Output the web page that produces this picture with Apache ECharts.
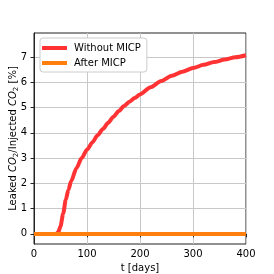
<!DOCTYPE html>
<html>
<head>
<meta charset="utf-8">
<script src="https://cdn.jsdelivr.net/npm/echarts@6/dist/echarts.min.js"></script>
<style>html,body{margin:0;padding:0;background:#fff}#c{width:274px;height:274px}</style>
</head>
<body>
<div id="c"></div>
<script>
var days = [0, 10, 20, 30, 40, 42, 46, 50, 55, 60, 65, 70, 80, 90, 100, 110, 120, 130, 140, 150, 160, 170, 180, 190, 200, 220, 240, 260, 280, 300, 320, 340, 360, 380, 400];
var withoutMICP = [0, 0, 0, 0, 0, 0, 0.08, 0.3, 0.8, 1.35, 1.75, 2.08, 2.6, 3.0, 3.33, 3.62, 3.9, 4.15, 4.4, 4.64, 4.86, 5.06, 5.23, 5.38, 5.52, 5.8, 6.05, 6.26, 6.42, 6.56, 6.69, 6.8, 6.9, 6.99, 7.07];
var afterDays = [0, 100, 200, 300, 400];
var afterMICP = [0, 0, 0, 0, 0];
var xTicks = [0, 100, 200, 300, 400];
var yTicks = [0, 1, 2, 3, 4, 5, 6, 7];

var font = 'DejaVu Sans';
var chart = echarts.init(document.getElementById('c'), null, {renderer: 'canvas'});
chart.setOption({
  animation: false,
  backgroundColor: '#fff',
  textStyle: {fontFamily: font},
  grid: {left: 34, right: 28, top: 33, bottom: 30, containLabel: false, outerBoundsMode: 'none', show: true, borderColor: '#222', borderWidth: 1, backgroundColor: 'transparent'},
  legend: {
    orient: 'vertical', left: 40, top: 38,
    backgroundColor: '#fff', borderColor: '#ccc', borderWidth: 1, borderRadius: 3,
    padding: [5, 6, 4, 2], itemGap: 5, itemWidth: 25, itemHeight: 4,
    icon: 'rect',
    textStyle: {fontFamily: font, fontSize: 10, color: '#000', padding: [0, 0, 0, 2]},
    data: ['Without MICP', 'After MICP']
  },
  xAxis: {
    type: 'value', min: 0, max: 400, interval: 100,
    name: 't [days]', nameLocation: 'middle', nameGap: 19, nameMoveOverlap: false,
    nameTextStyle: {fontFamily: font, fontSize: 10, color: '#000'},
    axisLine: {show: true, lineStyle: {color: '#222', width: 1}},
    axisTick: {show: true, length: 3.5, lineStyle: {color: '#222'}, customValues: xTicks},
    axisLabel: {fontFamily: font, fontSize: 10, color: '#000', margin: 5, customValues: xTicks},
    splitLine: {show: true, lineStyle: {color: '#c8c8c8', width: 1}}
  },
  yAxis: {
    type: 'value', min: -0.4, max: 7.95, splitNumber: 8,
    name: 'Leaked {i|CO}{s|2}/Injected {i|CO}{s|2} [%]', nameLocation: 'middle', nameGap: 14, nameRotate: 90, nameMoveOverlap: false,
    nameTextStyle: {
      fontFamily: font, fontSize: 10, color: '#000', lineHeight: 13,
      rich: {
        i: {fontFamily: font, fontSize: 10, fontStyle: 'italic', color: '#000', lineHeight: 13},
        s: {fontFamily: font, fontSize: 7, color: '#000', verticalAlign: 'bottom', lineHeight: 13}
      }
    },
    axisLine: {show: true, lineStyle: {color: '#222', width: 1}},
    axisTick: {show: true, length: 3.5, lineStyle: {color: '#222'}, customValues: yTicks},
    axisLabel: {fontFamily: font, fontSize: 10, color: '#000', margin: 7, customValues: yTicks},
    splitLine: {show: true, lineStyle: {color: '#c8c8c8', width: 1}}
  },
  series: [
    {
      name: 'Without MICP', type: 'line', symbol: 'none', smooth: 0.25, smoothMonotone: 'x',
      lineStyle: {color: '#ff3333', width: 4}, itemStyle: {color: '#ff3333'},
      data: days.map(function (d, i) { return [d, withoutMICP[i]]; }), z: 2
    },
    {
      name: 'After MICP', type: 'line', symbol: 'none',
      lineStyle: {color: '#ff7f0e', width: 4}, itemStyle: {color: '#ff7f0e'},
      data: afterDays.map(function (d, i) { return [d, afterMICP[i]]; }), z: 3
    }
  ]
});
</script>
</body>
</html>
